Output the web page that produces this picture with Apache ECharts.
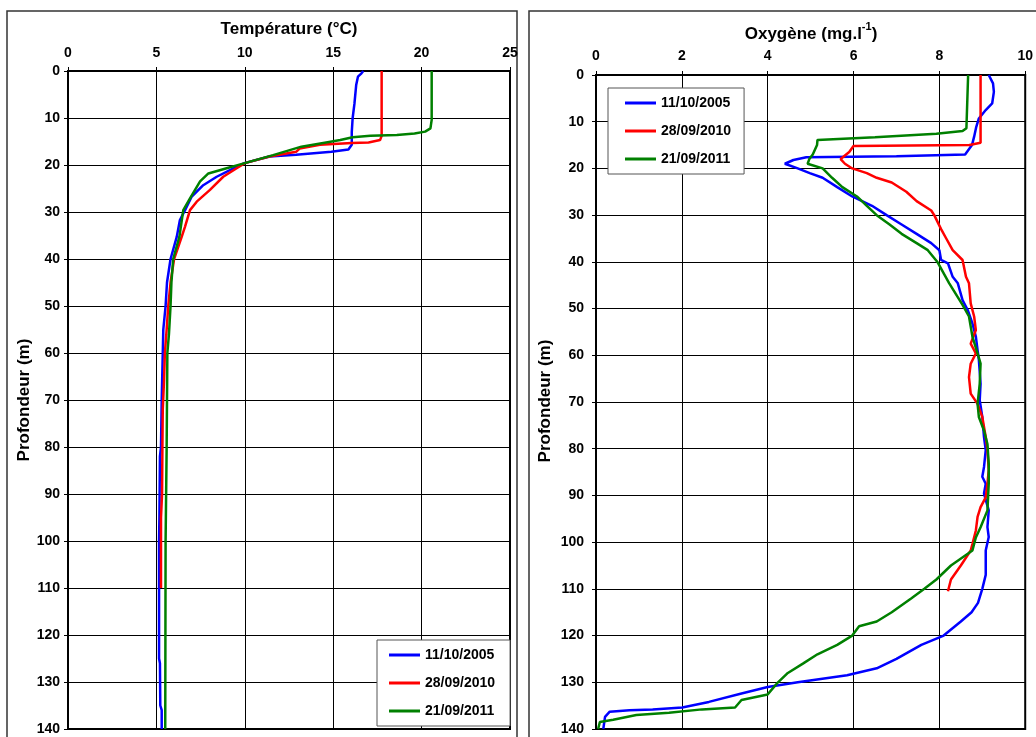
<!DOCTYPE html>
<html>
<head>
<meta charset="utf-8">
<script src="https://cdn.jsdelivr.net/npm/echarts@6/dist/echarts.min.js"></script>
<style>
html,body{margin:0;padding:0;background:#fff;}
#chart{width:1036px;height:737px;}
</style>
</head>
<body>
<div id="chart"></div>
<script>
// ---------- Data ----------
const seriesNames = ['11/10/2005', '28/09/2010', '21/09/2011'];
const seriesColors = ['#0000FF', '#FF0000', '#008000'];

const tempTicks = [0, 5, 10, 15, 20, 25];
const oxyTicks = [0, 2, 4, 6, 8, 10];
const depthTicks = [0, 10, 20, 30, 40, 50, 60, 70, 80, 90, 100, 110, 120, 130, 140];

// Temperature profiles (depth m, value °C)
const tempDepth2005 = [0, 0.5, 1.2, 3, 7, 10, 13, 15.7, 16.7, 17.2, 17.8, 18.2, 19.6, 21.1, 22.5, 24.3, 26.7, 29.6, 31.7, 35.3, 40, 45, 50, 55, 60, 70, 80, 82, 95, 100, 125, 126, 135, 136, 140];
const temp2005 = [16.7, 16.6, 16.4, 16.3, 16.2, 16.1, 16.05, 16.05, 15.86, 14.9, 12.9, 11.4, 9.97, 9.16, 8.41, 7.65, 7.0, 6.62, 6.33, 6.15, 5.8, 5.6, 5.52, 5.39, 5.36, 5.3, 5.26, 5.2, 5.17, 5.15, 5.15, 5.2, 5.22, 5.3, 5.3];

const tempDepth2010 = [0, 13.8, 14.7, 15.2, 15.3, 15.7, 16.5, 17.2, 18.2, 19.6, 20.7, 22.5, 25.3, 27.8, 29.6, 33.1, 35.3, 40, 45, 50, 55, 60, 66, 72, 80, 90, 95, 110];
const temp2010 = [17.74, 17.74, 17.65, 17.0, 16.05, 14.25, 13.1, 12.9, 11.4, 10.0, 9.54, 8.78, 8.03, 7.28, 6.9, 6.62, 6.43, 6.0, 5.8, 5.67, 5.58, 5.48, 5.43, 5.36, 5.34, 5.32, 5.26, 5.26];

const tempDepth2011 = [0, 10.4, 12.2, 12.9, 13.3, 13.6, 13.8, 14.1, 14.7, 15.2, 16.1, 17.9, 19.6, 20.7, 21.8, 23.5, 27.1, 29.6, 35.3, 40, 45, 50, 56, 60, 80, 100, 140];
const temp2011 = [20.57, 20.57, 20.5, 20.2, 19.6, 18.6, 17.1, 16.1, 15.4, 14.6, 13.2, 11.6, 10.0, 8.97, 7.94, 7.47, 6.9, 6.52, 6.3, 5.95, 5.85, 5.8, 5.71, 5.62, 5.58, 5.52, 5.5];

// Oxygen profiles (depth m, value mg/l)
const oxyDepth2005 = [0, 1.8, 3.6, 6.1, 7.5, 9.3, 11.1, 13.2, 15, 17, 17.4, 17.6, 18.2, 19, 20, 21, 22, 24, 26, 28, 30, 32, 34, 36, 37.5, 39.6, 40.3, 43.2, 44.6, 48.2, 50.3, 53.2, 56, 58.9, 61, 66.1, 69.6, 73.2, 77.5, 80.3, 83.9, 86, 87.5, 89.6, 93.2, 96.8, 98.9, 101.8, 107, 110, 113, 115, 117, 120, 122, 125, 127, 128.5, 130, 131, 132.4, 134.2, 135.4, 135.8, 136, 136.3, 137.4, 140];
const oxy2005 = [9.15, 9.25, 9.27, 9.23, 9.08, 8.92, 8.86, 8.81, 8.76, 8.6, 7.0, 4.9, 4.6, 4.4, 4.7, 4.98, 5.28, 5.62, 5.97, 6.43, 6.77, 7.12, 7.47, 7.81, 8.0, 8.04, 8.2, 8.31, 8.43, 8.54, 8.66, 8.77, 8.85, 8.89, 8.92, 8.96, 8.94, 9.0, 9.04, 9.08, 9.04, 9.0, 9.08, 9.04, 9.15, 9.12, 9.15, 9.08, 9.08, 9.0, 8.9, 8.75, 8.5, 8.1, 7.58, 7.0, 6.54, 5.85, 4.7, 4.0, 3.39, 2.63, 2.01, 1.32, 0.78, 0.32, 0.21, 0.17];

const oxyDepth2010 = [0, 10, 14.5, 15, 15.2, 16.5, 18, 19, 20, 21, 22, 23, 25, 27, 29, 30, 33, 35, 37.5, 39.6, 43.2, 44.6, 48.9, 51.7, 54.6, 57.5, 59.6, 61.8, 64.7, 68.2, 70.4, 73.2, 77.5, 80.3, 84.6, 87.5, 90.4, 92.5, 94.6, 97.5, 100.4, 101.8, 105, 108, 110.5];
const oxy2010 = [8.96, 8.96, 8.96, 8.7, 6.0, 5.9, 5.7, 5.8, 5.97, 6.31, 6.54, 6.89, 7.23, 7.47, 7.81, 7.88, 8.04, 8.16, 8.31, 8.54, 8.62, 8.69, 8.73, 8.81, 8.85, 8.73, 8.85, 8.73, 8.69, 8.73, 8.89, 9.0, 9.08, 9.12, 9.15, 9.12, 9.08, 8.96, 8.89, 8.85, 8.77, 8.73, 8.5, 8.27, 8.2];

const oxyDepth2011 = [0, 11.4, 12.0, 12.6, 13.3, 13.9, 15, 17, 18, 19, 20, 22, 24, 26, 28, 30, 32, 34, 36, 37.5, 40.1, 44.6, 49.2, 51.7, 56, 59.6, 61.8, 66.1, 70.4, 73.2, 76.1, 79, 83.2, 87.5, 93.2, 96.8, 99, 101.8, 105, 108, 110, 112, 115, 117, 118, 120, 122, 124, 126, 128, 130, 132.6, 133.8, 135.4, 135.8, 136.5, 137, 138, 138.5, 140];
const oxy2011 = [8.67, 8.63, 8.54, 7.93, 6.5, 5.16, 5.15, 5.05, 4.97, 4.93, 5.28, 5.5, 5.74, 6.08, 6.31, 6.54, 6.84, 7.12, 7.47, 7.73, 7.96, 8.23, 8.54, 8.69, 8.77, 8.89, 8.96, 8.94, 8.89, 8.92, 9.04, 9.12, 9.15, 9.15, 9.12, 8.96, 8.85, 8.77, 8.27, 7.93, 7.65, 7.35, 6.89, 6.54, 6.13, 5.97, 5.62, 5.16, 4.82, 4.47, 4.24, 4.0, 3.39, 3.24, 2.47, 1.7, 0.94, 0.4, 0.09, 0.05];

// ---------- Build ----------
const FONT = '"Liberation Sans", Arial, sans-serif';
function pairs(vals, depths) { return vals.map((v, i) => [v, depths[i]]); }

const tempSets = [[temp2005, tempDepth2005], [temp2010, tempDepth2010], [temp2011, tempDepth2011]];
const oxySets = [[oxy2005, oxyDepth2005], [oxy2010, oxyDepth2010], [oxy2011, oxyDepth2011]];

function xAxisCfg(gi, ticks, margin) {
  return {
    gridIndex: gi, type: 'value', position: 'top',
    min: ticks[0], max: ticks[ticks.length - 1], interval: ticks[1] - ticks[0],
    axisLine: { show: true, onZero: false, lineStyle: { color: '#000', width: 2 } },
    axisTick: { show: true, length: 4, lineStyle: { color: '#000', width: 1 } },
    axisLabel: { color: '#000', fontSize: 14, fontWeight: 'bold', fontFamily: FONT, margin: margin },
    splitLine: { show: true, lineStyle: { color: '#000', width: 1 } }
  };
}
function yAxisCfg(gi, margin) {
  return {
    gridIndex: gi, type: 'value', inverse: true,
    min: depthTicks[0], max: depthTicks[depthTicks.length - 1], interval: depthTicks[1] - depthTicks[0],
    axisLine: { show: true, onZero: false, lineStyle: { color: '#000', width: 2 } },
    axisTick: { show: true, length: 4, lineStyle: { color: '#000', width: 1 } },
    axisLabel: { color: '#000', fontSize: 14, fontWeight: 'bold', fontFamily: FONT, margin: margin },
    splitLine: { show: true, lineStyle: { color: '#000', width: 1 } }
  };
}

const series = [];
tempSets.forEach((s, i) => series.push({
  name: seriesNames[i], type: 'line', xAxisIndex: 0, yAxisIndex: 0,
  data: pairs(s[0], s[1]), showSymbol: false, symbol: 'none',
  lineStyle: { color: seriesColors[i], width: 2.5 }, itemStyle: { color: seriesColors[i] }, z: 3
}));
oxySets.forEach((s, i) => series.push({
  name: seriesNames[i], type: 'line', xAxisIndex: 1, yAxisIndex: 1,
  data: pairs(s[0], s[1]), showSymbol: false, symbol: 'none',
  lineStyle: { color: seriesColors[i], width: 2.5 }, itemStyle: { color: seriesColors[i] }, z: 3
}));

const legendCommon = {
  orient: 'vertical', data: seriesNames, icon: 'rect', itemWidth: 31, itemHeight: 3,
  itemGap: 14, backgroundColor: '#fff', borderColor: '#555', borderWidth: 1,
  textStyle: { color: '#000', fontSize: 14, fontWeight: 'bold', fontFamily: FONT }, z: 10
};

const option = {
  animation: false,
  backgroundColor: '#fff',
  title: [
    { text: 'Température (°C)', left: 289, top: 21, textAlign: 'center', padding: 0,
      textStyle: { color: '#000', fontSize: 17, fontWeight: 'bold', fontFamily: FONT } },
    { text: '{a|Oxygène (mg.l}{s|-1}{a|)}', left: 811, top: 21, textAlign: 'center', padding: 0,
      textStyle: { rich: {
        a: { color: '#000', fontSize: 17, fontWeight: 'bold', fontFamily: FONT, lineHeight: 22, verticalAlign: 'bottom' },
        s: { color: '#000', fontSize: 11, fontWeight: 'bold', fontFamily: FONT, lineHeight: 22, verticalAlign: 'top', padding: [0, 0, 10, 0] }
      } } }
  ],
  grid: [
    { left: 68, top: 71, width: 442, height: 658, show: true, borderColor: '#000', borderWidth: 2, backgroundColor: 'transparent' },
    { left: 596, top: 75, width: 434, height: 654, show: true, borderColor: '#000', borderWidth: 2, backgroundColor: 'transparent' }
  ],
  xAxis: [xAxisCfg(0, tempTicks, 11), xAxisCfg(1, oxyTicks, 12)],
  yAxis: [yAxisCfg(0, 8), yAxisCfg(1, 12)],
  legend: [
    Object.assign({}, legendCommon, { left: 377, top: 640, padding: [8, 15, 8, 12] }),
    Object.assign({}, legendCommon, { left: 608, top: 88, padding: [8, 13, 8, 17] })
  ],
  graphic: [
    { type: 'rect', z: -10, shape: { x: 7, y: 11, width: 510, height: 740 }, style: { fill: 'none', stroke: '#333', lineWidth: 1.5 } },
    { type: 'rect', z: -10, shape: { x: 529, y: 11, width: 520, height: 740 }, style: { fill: 'none', stroke: '#333', lineWidth: 1.5 } },
    { type: 'text', x: 24, y: 400, rotation: Math.PI / 2,
      style: { text: 'Profondeur (m)', fill: '#000', fontSize: 17, fontWeight: 'bold', fontFamily: FONT, textAlign: 'center', textVerticalAlign: 'middle' } },
    { type: 'text', x: 545, y: 401, rotation: Math.PI / 2,
      style: { text: 'Profondeur (m)', fill: '#000', fontSize: 17, fontWeight: 'bold', fontFamily: FONT, textAlign: 'center', textVerticalAlign: 'middle' } }
  ],
  series: series
};

const chart = echarts.init(document.getElementById('chart'), null, { renderer: 'canvas' });
chart.setOption(option);
</script>
</body>
</html>
